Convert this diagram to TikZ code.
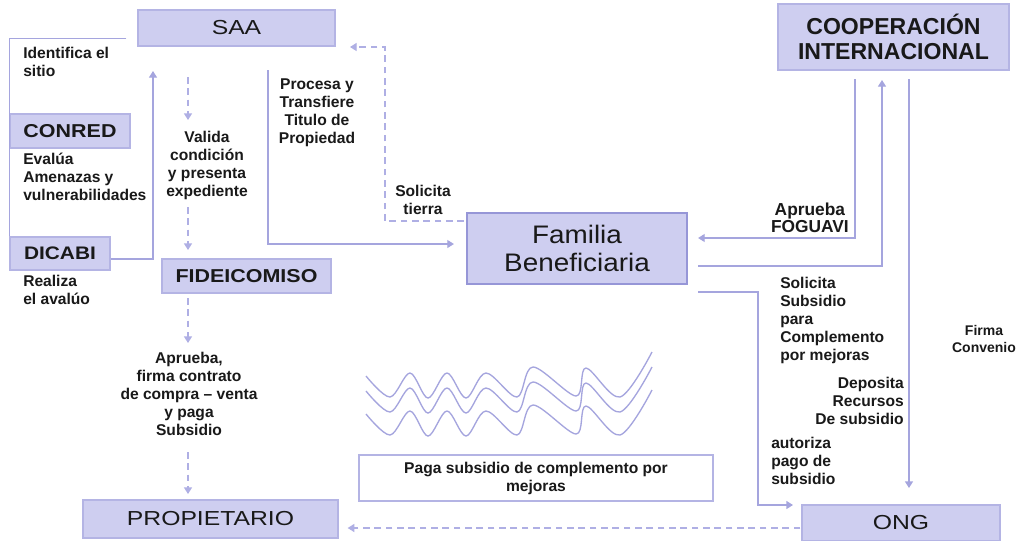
\documentclass[tikz,border=0pt]{standalone}
\usepackage{fontspec}
\setmainfont{Liberation Sans}
\newfontfamily\regbox{Liberation Sans}[FakeStretch=1.22]
\newfontfamily\boldbox{Liberation Sans}[FakeStretch=1.15]
\newfontfamily\famfont{Liberation Sans}[FakeStretch=1.1]
\usetikzlibrary{arrows.meta,calc}
\definecolor{boxfill}{RGB}{206,206,240}
\definecolor{boxdraw}{RGB}{180,180,228}
\definecolor{famdraw}{RGB}{150,150,215}
\definecolor{linecol}{RGB}{165,165,222}
\definecolor{dashcol}{RGB}{175,175,228}
\definecolor{txt}{RGB}{25,25,25}
\begin{document}
\begin{tikzpicture}[x=0.75pt,y=-0.75pt,
  box/.style={draw=boxdraw, fill=boxfill, line width=1pt, inner sep=0pt, text=txt},
  lbl/.style={font=\bfseries\fontsize{11.7}{13.5}\selectfont, text=txt, inner sep=0pt},
  conn/.style={draw=linecol, line width=1pt},
  arr/.style={conn, -{Triangle[width=6pt,length=5pt]}},
  darr/.style={arr, draw=dashcol, dash pattern=on 5pt off 3.5pt},
  wave/.style={draw=linecol, line width=1pt}]
\useasboundingbox (0,0) rectangle (1025,540);
\fill[white] (0,0) rectangle (1025,540);

% boxes
\node[box, minimum width=147.75pt, minimum height=27pt, font=\regbox\fontsize{15.2}{17}\selectfont] (SAA) at (236.5,28) {SAA};
\node[box, minimum width=90pt, minimum height=25.5pt, font=\boldbox\bfseries\fontsize{14}{16}\selectfont] (CONRED) at (70,131) {CONRED};
\node[box, minimum width=75pt, minimum height=24.75pt, font=\boldbox\bfseries\fontsize{13.6}{16}\selectfont] (DICABI) at (60,253.5) {DICABI};
\node[box, minimum width=126.75pt, minimum height=25.5pt, font=\boldbox\bfseries\fontsize{14}{16}\selectfont] (FIDE) at (246.5,276) {FIDEICOMISO};
\node[box, draw=famdraw, line width=1.6pt, minimum width=165pt, minimum height=53.25pt, align=center, font=\famfont\fontsize{19}{21}\selectfont] (FAM) at (577,248.5) {Familia\\Beneficiaria};
\node[box, minimum width=173.25pt, minimum height=49.5pt, align=center, font=\bfseries\fontsize{17.3}{18.75}\selectfont] (COOP) at (893.5,37) {COOPERACIÓN\\INTERNACIONAL};
\node[box, minimum width=191.25pt, minimum height=28.5pt, font=\regbox\fontsize{15.2}{17}\selectfont] (PROP) at (210.5,519) {PROPIETARIO};
\node[box, minimum width=148.5pt, minimum height=27pt, font=\regbox\fontsize{15.2}{17}\selectfont] (ONG) at (901,523) {ONG};
\node[box, draw=boxdraw, fill=white, minimum width=265.5pt, minimum height=34.5pt, align=center, lbl] (PAGA) at (536,478) {Paga subsidio de complemento por\\mejoras};

% labels
\node[lbl, anchor=north west, align=left] (l1) at (23,47) {Identifica el\\sitio};
\node[lbl, anchor=north west, align=left] (l2) at (23,153) {Evalúa\\Amenazas y\\vulnerabilidades};
\node[lbl, anchor=north west, align=left] (l3) at (23,275) {Realiza\\el avalúo};
\node[lbl, anchor=north, align=center] (l4) at (207,131) {Valida\\condición\\y presenta\\expediente};
\node[lbl, anchor=north, align=center] (l5) at (317,78) {Procesa y\\Transfiere\\Titulo de\\Propiedad};
\node[lbl, anchor=north, align=center] (l6) at (423,185) {Solicita\\tierra};
\node[lbl, anchor=north, align=center] (l7) at (189,352) {Aprueba,\\firma contrato\\de compra -- venta\\y paga\\Subsidio};
\node[lbl, anchor=north east, align=center, font=\bfseries\fontsize{13}{12.75}\selectfont] (l8) at (849,203) {Aprueba\\FOGUAVI};
\node[lbl, anchor=north west, align=left] (l9) at (780,277) {Solicita\\Subsidio\\para\\Complemento\\por mejoras};
\node[lbl, anchor=north east, align=right] (l10) at (904,377) {Deposita\\Recursos\\De subsidio};
\node[lbl, anchor=north west, align=left] (l11) at (771,437) {autoriza\\pago de\\subsidio};
\node[lbl, anchor=north, align=center, font=\bfseries\fontsize{10.5}{12.75}\selectfont] (l12) at (984,325) {Firma\\Convenio};

% connectors
\coordinate (saaL) at ($(SAA.south west)+(-11,-8)$);
\draw[conn] (saaL) -| (DICABI.north west);
\coordinate (saaIn) at (153,71);
\draw[arr] ($(DICABI.east)+(0,5.5)$) -| (saaIn);

\coordinate (v1a) at (188,77);
\coordinate (v1b) at (188,120);
\coordinate (v2a) at (188,207);
\coordinate (v2b) at (188,250);
\coordinate (v3a) at (188,298);
\coordinate (v3b) at (188,343);
\coordinate (v4a) at (188,452);
\coordinate (v4b) at (188,494);
\draw[darr] (v1a) -- (v1b);
\draw[darr] (v2a) -- (v2b);
\draw[darr] (v3a) -- (v3b);
\draw[darr] (v4a) -- (v4b);

\coordinate (procTop) at (268,70);
\draw[arr] (procTop) |- ($(FAM.west)+(-12,-4.5)$);

\coordinate (solTop) at (350,47);
\draw[darr] ($(FAM.west)+(-2,-27.5)$) -| (385,47) -- (solTop);

\coordinate (coopA) at (855,79);
\draw[arr] (coopA) |- ($(FAM.east)+(10,-10.5)$);
\coordinate (coopB) at (882,80);
\draw[arr] ($(FAM.east)+(10,17.5)$) -| (coopB);
\coordinate (coopC) at (909,79);
\coordinate (ongTop) at (909,488);
\draw[arr] (coopC) -- (ongTop);
\coordinate (ongIn) at (793,505);
\draw[arr] ($(FAM.east)+(10,43.5)$) -| (758,505) -- (ongIn);

\draw[darr] ($(ONG.west)+(-1,5)$) -- ($(PROP.east)+(9,9)$);

% waves
\foreach \dy in {0,15,38}{
\draw[wave, yshift={-0.75*\dy pt}] plot[smooth, tension=0.55] coordinates {
 (366,376) (390,397) (410,373) (428,398) (447,373) (466,398) (486,373) (517,397) (533,367) (576,396) (586,368) (620,397) (652,352)};
}
\end{tikzpicture}
\end{document}
